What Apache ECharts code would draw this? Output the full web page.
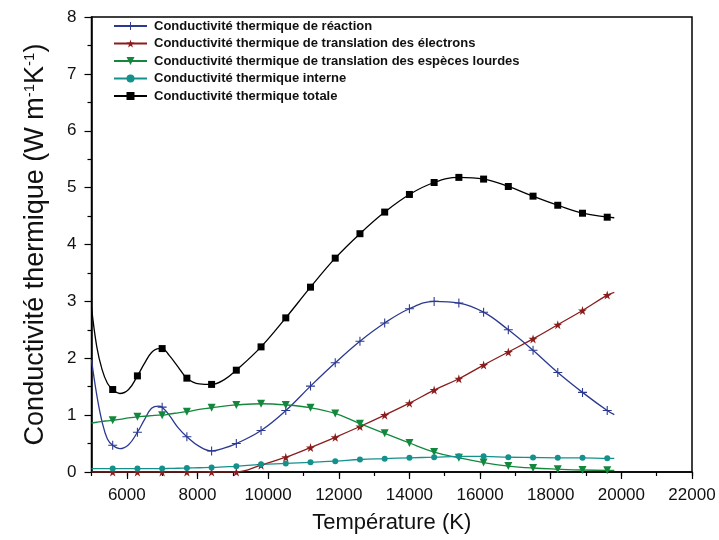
<!DOCTYPE html>
<html>
<head>
<meta charset="utf-8">
<script src="https://cdn.jsdelivr.net/npm/echarts@6/dist/echarts.min.js"></script>
<style>
  html, body { margin: 0; padding: 0; background: #fff; }
  #chart { width: 719px; height: 540px; }
</style>
</head>
<body>
<div id="chart"></div>
<script>
// Temperatures (K) at which the conductivities are sampled
const temperatures = [5000, 5150, 5300, 5450, 5600, 5800, 6050, 6300, 6500, 6700, 6900,
  7000, 7200, 7450, 7700, 8050, 8400, 8750, 9100, 9800, 10500, 11200, 11900, 12600,
  13300, 14000, 14700, 15400, 16100, 16800, 17500, 18200, 18900, 19600, 19800];

// Thermal conductivity components (W m^-1 K^-1)
const reaction = [1.97, 1.35, 0.88, 0.58, 0.47, 0.41, 0.48, 0.70, 0.92, 1.12, 1.16,
  1.14, 1.00, 0.78, 0.62, 0.45, 0.37, 0.42, 0.50, 0.73, 1.08, 1.51, 1.92, 2.30,
  2.62, 2.87, 3.00, 2.97, 2.81, 2.50, 2.14, 1.75, 1.40, 1.08, 1.01];
const electrons = [0, 0, 0, 0, 0, 0, 0, 0, 0, 0, 0,
  0, 0, 0, 0, 0, 0, 0, 0, 0.12, 0.26, 0.43, 0.61, 0.80,
  1.00, 1.21, 1.44, 1.64, 1.88, 2.11, 2.34, 2.59, 2.84, 3.11, 3.16];
const heavySpecies = [0.86, 0.875, 0.89, 0.90, 0.91, 0.925, 0.95, 0.97, 0.98, 0.99, 1.00,
  1.00, 1.02, 1.04, 1.06, 1.10, 1.13, 1.16, 1.18, 1.20, 1.18, 1.13, 1.03, 0.85,
  0.68, 0.51, 0.35, 0.25, 0.165, 0.105, 0.07, 0.05, 0.035, 0.03, 0.03];
const internal = [0.06, 0.06, 0.06, 0.06, 0.06, 0.06, 0.06, 0.06, 0.06, 0.06, 0.06,
  0.06, 0.062, 0.066, 0.07, 0.075, 0.08, 0.09, 0.10, 0.135, 0.15, 0.17, 0.19, 0.22,
  0.235, 0.25, 0.26, 0.275, 0.275, 0.26, 0.255, 0.25, 0.25, 0.24, 0.24];
const total = [2.90, 2.20, 1.80, 1.56, 1.45, 1.38, 1.45, 1.69, 1.91, 2.10, 2.17,
  2.17, 2.05, 1.85, 1.65, 1.55, 1.54, 1.62, 1.79, 2.20, 2.71, 3.25, 3.76, 4.19,
  4.57, 4.88, 5.09, 5.18, 5.15, 5.02, 4.85, 4.69, 4.55, 4.48, 4.47];

const seriesNames = [
  'Conductivité thermique de réaction',
  'Conductivité thermique de translation des électrons',
  'Conductivité thermique de translation des espèces lourdes',
  'Conductivité thermique interne',
  'Conductivité thermique totale'
];

const xTicksMajor = [6000, 8000, 10000, 12000, 14000, 16000, 18000, 20000, 22000];

const FONT = '"Liberation Sans", Arial, sans-serif';

// Markers are drawn every 700 K starting at 5600 K
function isMarker(t) {
  return t >= 5600 && t <= 19600 && (t - 5600) % 700 === 0;
}

function buildData(values) {
  return temperatures.map((t, i) => isMarker(t)
    ? { value: [t, values[i]] }
    : { value: [t, values[i]], symbol: 'none' });
}

const SYM_CROSS = 'path://M4.4,0H5.6V4.4H10V5.6H5.6V10H4.4V5.6H0V4.4H4.4Z';
const SYM_STAR = 'path://M50,0L61,35H98L68,57L79,91L50,70L21,91L32,57L2,35H39Z';
const SYM_TRI_DOWN = 'path://M0,0L10,0L5,9Z';

function lineSeries(name, values, color, symbol, size) {
  return {
    name: name,
    type: 'line',
    data: buildData(values),
    smooth: 0.4,
    symbol: symbol,
    symbolSize: size,
    lineStyle: { color: color, width: 1.3 },
    itemStyle: { color: color },
    emphasis: { disabled: true },
    animation: false
  };
}

const chart = echarts.init(document.getElementById('chart'), null, { renderer: 'canvas' });

chart.setOption({
  backgroundColor: '#ffffff',
  animation: false,
  grid: {
    left: 91.5, right: 27, top: 17, bottom: 68,
    show: true, borderColor: '#000', borderWidth: 1.5,
    backgroundColor: 'transparent'
  },
  legend: {
    orient: 'vertical',
    left: 108,
    top: 14,
    itemWidth: 33,
    itemHeight: 10,
    itemGap: 3.5,
    selectedMode: false,
    data: seriesNames,
    textStyle: {
      fontFamily: FONT, fontSize: 13, fontWeight: 'bold', color: '#111',
      lineHeight: 14, padding: [0, 0, 0, 2]
    }
  },
  xAxis: [
    {
      type: 'value',
      min: 5000, max: 22000, interval: 1000,
      name: 'Température (K)',
      nameLocation: 'middle',
      nameGap: 40,
      nameTextStyle: { fontFamily: FONT, fontSize: 22, color: '#111' },
      axisLine: { onZero: false, lineStyle: { color: '#000', width: 1.5 } },
      axisTick: { show: true, length: 4, lineStyle: { color: '#000', width: 1.2 } },
      axisLabel: {
        fontFamily: FONT, fontSize: 17, color: '#111', margin: 15,
        customValues: xTicksMajor,
        formatter: (v) => String(v)
      },
      splitLine: { show: false }
    },
    {
      // longer ticks at the labelled values
      type: 'value',
      position: 'bottom',
      min: 5000, max: 22000,
      axisLine: { show: false, onZero: false },
      axisTick: { show: true, length: 7, customValues: xTicksMajor,
        lineStyle: { color: '#000', width: 1.2 } },
      axisLabel: { show: false },
      splitLine: { show: false }
    }
  ],
  yAxis: {
    type: 'value',
    min: 0, max: 8, interval: 1,
    name: 'Conductivité thermique (W m{sup|-1}K{sup|-1})',
    nameLocation: 'middle',
    nameGap: 42,
    nameTextStyle: {
      fontFamily: FONT, fontSize: 27, color: '#111',
      rich: {
        sup: { fontFamily: FONT, fontSize: 15, color: '#111', verticalAlign: 'top', padding: [0, 0, 12, 0] }
      }
    },
    axisLine: { onZero: false, lineStyle: { color: '#000', width: 1.5 } },
    axisTick: { show: true, length: 7, lineStyle: { color: '#000', width: 1.2 } },
    minorTick: { show: true, splitNumber: 2, length: 4, lineStyle: { color: '#000', width: 1.2 } },
    axisLabel: { fontFamily: FONT, fontSize: 17, color: '#111', margin: 15 },
    splitLine: { show: false },
    minorSplitLine: { show: false }
  },
  series: [
    lineSeries(seriesNames[0], reaction, '#2b3990', SYM_CROSS, 9),
    lineSeries(seriesNames[1], electrons, '#8b1c1c', SYM_STAR, 9),
    lineSeries(seriesNames[2], heavySpecies, '#13883d', SYM_TRI_DOWN, 8),
    lineSeries(seriesNames[3], internal, '#14918c', 'circle', 6),
    lineSeries(seriesNames[4], total, '#000000', 'rect', 7)
  ]
});
</script>
</body>
</html>
